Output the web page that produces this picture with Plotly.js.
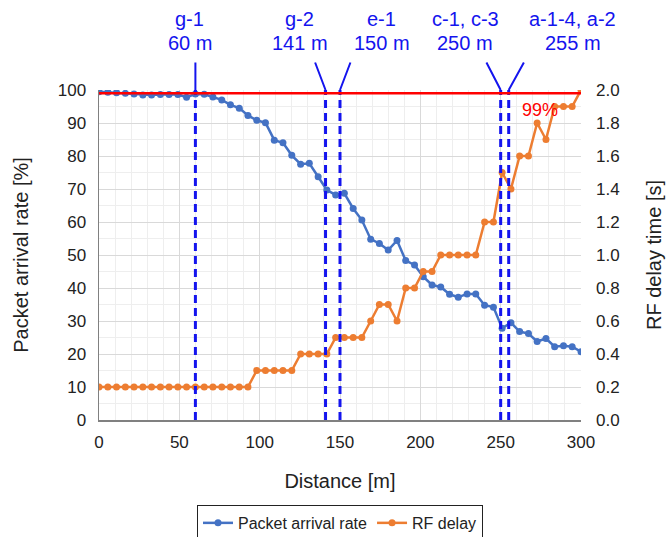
<!DOCTYPE html>
<html><head><meta charset="utf-8">
<script src="https://cdn.plot.ly/plotly-3.0.1.min.js"></script>
<style>html,body{margin:0;padding:0;background:#fff}</style>
</head><body>
<div id="chart" style="width:671px;height:537px"></div>
<script>
// Distance [m]
const distance = [0, 5.5, 10.9, 16.4, 21.8, 27.3, 32.7, 38.2, 43.6, 49.1,
  54.5, 60, 65.5, 70.9, 76.4, 81.8, 87.3, 92.7, 98.2, 103.6,
  109.1, 114.5, 120, 125.5, 130.9, 136.4, 141.8, 147.3, 152.7, 158.2,
  163.6, 169.1, 174.5, 180, 185.5, 190.9, 196.4, 201.8, 207.3, 212.7,
  218.2, 223.6, 229.1, 234.5, 240, 245.5, 250.9, 256.4, 261.8, 267.3,
  272.7, 278.2, 283.6, 289.1, 294.5, 300];
// Packet arrival rate [%]
const arrivalRate = [99.5, 99.3, 99.2, 99.0, 98.8, 98.5, 98.5, 98.6, 98.6, 98.6,
  97.8, 98.8, 98.7, 97.9, 97.0, 95.5, 94.5, 92.3, 90.8, 90.1,
  84.8, 84.0, 80.2, 77.5, 77.8, 73.7, 69.7, 68.2, 68.7, 64.1,
  60.6, 54.8, 53.5, 51.5, 54.4, 48.3, 47.0, 43.4, 40.9, 40.3,
  38.1, 37.2, 38.2, 38.2, 34.8, 34.2, 27.8, 29.5, 26.8, 26.2,
  23.8, 24.7, 22.2, 22.5, 22.2, 20.7];
// RF delay time [s]
const rfDelay = [0.2, 0.2, 0.2, 0.2, 0.2, 0.2, 0.2, 0.2, 0.2, 0.2,
  0.2, 0.2, 0.2, 0.2, 0.2, 0.2, 0.2, 0.2, 0.3, 0.3,
  0.3, 0.3, 0.3, 0.4, 0.4, 0.4, 0.4, 0.5, 0.5, 0.5,
  0.5, 0.6, 0.7, 0.7, 0.6, 0.8, 0.8, 0.9, 0.9, 1.0,
  1.0, 1.0, 1.0, 1.0, 1.2, 1.2, 1.5, 1.4, 1.6, 1.6,
  1.8, 1.7, 1.9, 1.9, 1.9, 2.0];
// Threshold line
const threshold = 99;
const thresholdLabel = '99%';
// Marked positions
const markDist = [60, 141, 150, 250, 255];
const markName = ['g-1', 'g-2', 'e-1', 'c-1, c-3', 'a-1-4, a-2'];
const markDistLabel = ['60 m', '141 m', '150 m', '250 m', '255 m'];

const FONT = 'Liberation Sans, Arial, sans-serif';
const MARK_BLUE = '#1414ee';

const traces = [
  {x: distance, y: arrivalRate, name: 'Packet arrival rate', type: 'scatter', mode: 'lines+markers',
   line: {color: '#4472C4', width: 2.5}, marker: {color: '#4472C4', size: 7}},
  {x: distance, y: rfDelay, name: 'RF delay', type: 'scatter', mode: 'lines+markers', yaxis: 'y2',
   line: {color: '#ED7D31', width: 2.5}, marker: {color: '#ED7D31', size: 7}}
];

const shapes = [];
markDist.forEach(d => shapes.push({type: 'line', xref: 'x', yref: 'paper', x0: d, x1: d, y0: 0, y1: 1,
  line: {color: MARK_BLUE, width: 3, dash: '8px,5px'}, layer: 'above'}));
shapes.push({type: 'line', xref: 'paper', yref: 'y', x0: 0, x1: 1, y0: threshold, y1: threshold,
  line: {color: '#ff0000', width: 2.5}, layer: 'above'});

const annotations = [];
// label positions in paper fractions of plot width
const nameX = [0.187, 0.417, 0.587, 0.760, 0.983];
const distX = [0.189, 0.417, 0.587, 0.760, 0.983];
const leadAx = [0, -11, 11, -15, 16];
markDist.forEach((d, i) => {
  annotations.push({x: nameX[i], y: 1.215, xref: 'paper', yref: 'paper', text: markName[i], showarrow: false,
    font: {family: FONT, size: 20, color: MARK_BLUE}, xanchor: 'center', yanchor: 'middle'});
  annotations.push({x: distX[i], y: 1.142, xref: 'paper', yref: 'paper', text: markDistLabel[i], showarrow: false,
    font: {family: FONT, size: 20, color: MARK_BLUE}, xanchor: 'center', yanchor: 'middle'});
  annotations.push({x: d, y: 1, xref: 'x', yref: 'paper', text: '', showarrow: true, arrowhead: 0,
    arrowwidth: 2, arrowcolor: MARK_BLUE, ax: leadAx[i], ay: -29, standoff: 0});
});
annotations.push({x: 274.4, y: 94, xref: 'x', yref: 'y', text: thresholdLabel, showarrow: false,
  font: {family: FONT, size: 18, color: '#ff0000'}, xanchor: 'center', yanchor: 'middle'});

const layout = {
  width: 671, height: 537,
  margin: {l: 99, r: 90, t: 90, b: 117, autoexpand: false},
  paper_bgcolor: '#fff', plot_bgcolor: '#fff',
  font: {family: FONT, color: '#222'},
  showlegend: true,
  legend: {orientation: 'h', x: 0.5, xanchor: 'center', y: -0.312, yanchor: 'middle',
    bordercolor: '#222', borderwidth: 1, font: {size: 16, color: '#222'}},
  xaxis: {range: [0, 300], tick0: 0, dtick: 50, showgrid: true, gridcolor: '#d9d9d9', gridwidth: 1,
    minor: {dtick: 10, showgrid: true, gridcolor: '#eeeeee', gridwidth: 1},
    showline: true, linecolor: '#808080', linewidth: 1.5, zeroline: false, ticks: '',
    tickfont: {size: 17}, ticklabelstandoff: 6,
    title: {text: 'Distance [m]', font: {size: 20}, standoff: 23}},
  yaxis: {range: [0, 100], tick0: 0, dtick: 10, showgrid: true, gridcolor: '#d9d9d9', gridwidth: 1,
    minor: {dtick: 5, showgrid: true, gridcolor: '#eeeeee', gridwidth: 1},
    showline: true, linecolor: '#808080', linewidth: 1.5, zeroline: false, ticks: '',
    tickfont: {size: 17}, ticklabelstandoff: 8,
    title: {text: 'Packet arrival rate [%]', font: {size: 20}, standoff: 23}},
  yaxis2: {overlaying: 'y', side: 'right', range: [0, 2], tick0: 0, dtick: 0.2, tickformat: '.1f',
    showgrid: false, zeroline: false, showline: false, ticks: '',
    tickfont: {size: 17}, ticklabelstandoff: 14,
    title: {text: 'RF delay time [s]', font: {size: 20}, standoff: 28}},
  shapes: shapes,
  annotations: annotations
};

Plotly.newPlot('chart', traces, layout, {displayModeBar: false, staticPlot: true});
</script>
</body></html>
